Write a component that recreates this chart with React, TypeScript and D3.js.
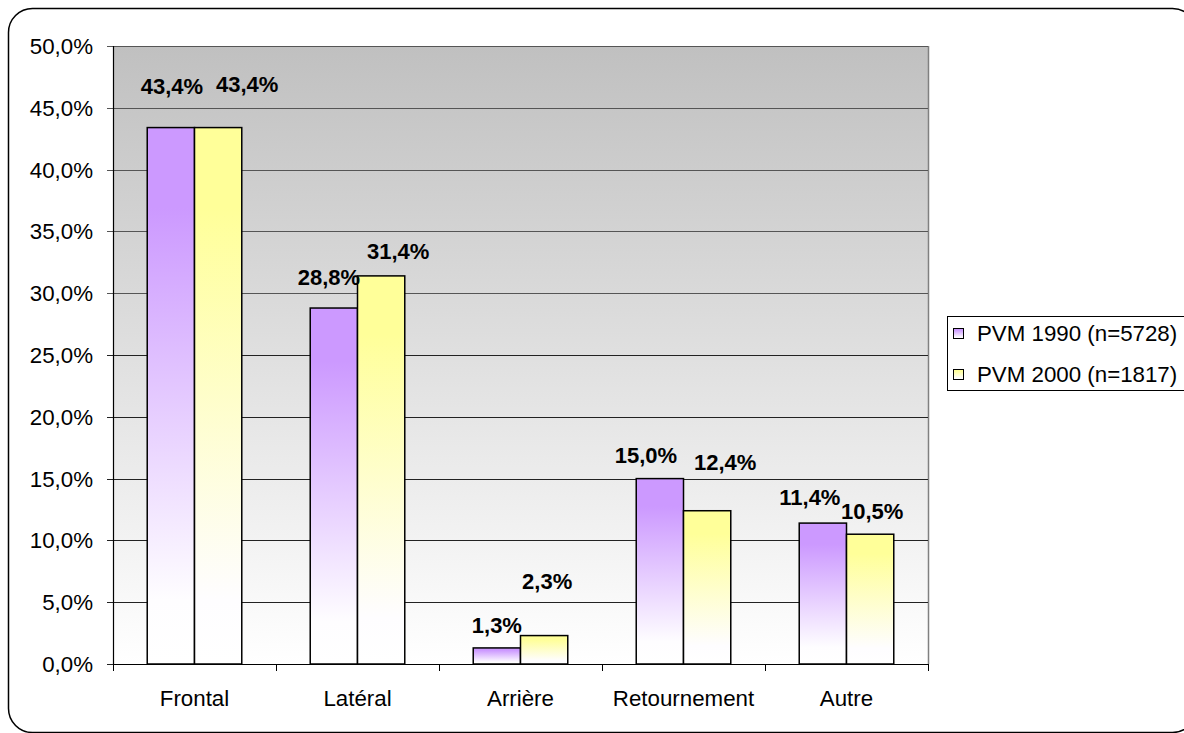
import React from "react";
import * as d3 from "d3";

const categories = ["Frontal", "Latéral", "Arrière", "Retournement", "Autre"];
const seriesNames = ["PVM 1990 (n=5728)", "PVM 2000 (n=1817)"];
const pvm1990 = [43.4, 28.8, 1.3, 15.0, 11.4];
const pvm2000 = [43.4, 31.4, 2.3, 12.4, 10.5];
const yTicks = [0, 5, 10, 15, 20, 25, 30, 35, 40, 45, 50];

// layout tweaks for data-label placement (Excel's free-floating labels)
const labelDx = [
  [1, -5, 0, -14, -13],
  [29, 17, 3, 18, 2],
];
const labelDy = [
  [-41, -31, -23, -24, -26],
  [-43, -25, -54, -49, -23],
];

const W = 1184;
const H = 733;
const M = { left: 113, right: 928, top: 46, bottom: 664 };
const FONT = "'Liberation Sans', Arial, sans-serif";
const FS = 22.3;
const fmt = (v: number) => v.toFixed(1).replace(".", ",") + "%";

export default function App() {
  const x0 = d3
    .scaleBand<string>()
    .domain(categories)
    .range([M.left, M.right])
    .paddingInner(0.42)
    .paddingOuter(0.21);
  const x1 = d3
    .scaleBand<string>()
    .domain(seriesNames)
    .range([0, x0.bandwidth()]);
  const y = d3.scaleLinear().domain([0, 50]).range([M.bottom, M.top]);
  const step = x0.step();
  const series = [pvm1990, pvm2000];
  const colors = ["#cc99ff", "#ffff99"];
  const gradIds = ["gP", "gY"];

  const boundaries = d3.range(categories.length + 1).map((i) => M.left + i * step);

  return (
    <svg
      width={W}
      height={H}
      style={{ position: "absolute", left: 0, top: 0, display: "block" }}
      fontFamily={FONT}
    >
      <defs>
        <linearGradient id="bg" x1="0" y1="0" x2="0" y2="1">
          <stop offset="0" stopColor="#c0c0c0" />
          <stop offset="1" stopColor="#ffffff" />
        </linearGradient>
        {colors.map((c, i) => (
          <linearGradient key={i} id={gradIds[i]} x1="0" y1="0" x2="0" y2="1">
            <stop offset="0" stopColor={c} />
            <stop offset="0.15" stopColor={c} />
            <stop offset="0.88" stopColor="#fefdff" />
            <stop offset="1" stopColor="#ffffff" />
          </linearGradient>
        ))}
      </defs>
      <rect x={0} y={0} width={W} height={H} fill="#ffffff" />
      <rect
        x={8.5}
        y={8.5}
        width={1188}
        height={724}
        rx={24}
        ry={24}
        fill="#ffffff"
        stroke="#000"
        strokeWidth={1.5}
      />
      {/* plot area */}
      <rect
        x={M.left}
        y={M.top}
        width={M.right - M.left}
        height={M.bottom - M.top}
        fill="url(#bg)"
      />
      <line x1={M.right + 0.5} x2={M.right + 0.5} y1={M.top} y2={M.bottom} stroke="#808080" strokeWidth={1.5} />
      {/* gridlines */}
      {yTicks.map((t) => (
        <line
          key={t}
          x1={M.left - 6}
          x2={t === 0 ? M.left : M.right}
          y1={Math.round(y(t)) + 0.5}
          y2={Math.round(y(t)) + 0.5}
          stroke={t >= 30 ? "#555" : "#222"}
          strokeWidth={1}
        />
      ))}
      {/* y tick labels */}
      {yTicks.map((t) => (
        <text
          key={"l" + t}
          x={93}
          y={y(t)}
          dy="0.36em"
          textAnchor="end"
          fontSize={FS}
          fill="#000"
        >
          {fmt(t)}
        </text>
      ))}
      {/* bars */}
      {categories.map((c, ci) =>
        series.map((s, si) => {
          const bx = (x0(c) as number) + (x1(seriesNames[si]) as number);
          return (
            <rect
              key={c + si}
              x={bx}
              y={y(s[ci])}
              width={x1.bandwidth()}
              height={M.bottom - y(s[ci])}
              fill={`url(#${gradIds[si]})`}
              stroke="#000"
              strokeWidth={1.5}
            />
          );
        })
      )}
      {/* axes */}
      <line x1={M.left + 0.5} x2={M.left + 0.5} y1={M.top} y2={M.bottom} stroke="#000" strokeWidth={1.2} />
      <line x1={M.left} x2={M.right + 1} y1={M.bottom + 0.5} y2={M.bottom + 0.5} stroke="#000" strokeWidth={1.2} />
      {boundaries.map((b, i) => (
        <line key={"b" + i} x1={b + 0.5} x2={b + 0.5} y1={M.bottom} y2={M.bottom + 7} stroke="#000" strokeWidth={1} />
      ))}
      {categories.map((c) => (
        <text
          key={"c" + c}
          x={(x0(c) as number) + x0.bandwidth() / 2}
          y={698}
          dy="0.36em"
          textAnchor="middle"
          fontSize={FS}
          fill="#000"
        >
          {c}
        </text>
      ))}
      {/* data labels */}
      {categories.map((c, ci) =>
        series.map((s, si) => {
          const cx =
            (x0(c) as number) + (x1(seriesNames[si]) as number) + x1.bandwidth() / 2 + labelDx[si][ci];
          return (
            <text
              key={"d" + c + si}
              x={cx}
              y={y(s[ci]) + labelDy[si][ci]}
              dy="0.36em"
              textAnchor="middle"
              fontSize={22}
              fontWeight="bold"
              fill="#000"
            >
              {fmt(s[ci])}
            </text>
          );
        })
      )}
      {/* legend */}
      <rect x={947.5} y={316.5} width={260} height={74} fill="#fff" stroke="#000" strokeWidth={1} />
      {seriesNames.map((n, i) => (
        <g key={n} transform={`translate(0, ${333 + i * 41})`}>
          <rect x={953.5} y={-4.5} width={10} height={10} fill={`url(#${gradIds[i]})`} stroke="#000" strokeWidth={1} />
          <text x={977} y={0} dy="0.36em" fontSize={FS} fill="#000">
            {n}
          </text>
        </g>
      ))}
    </svg>
  );
}
